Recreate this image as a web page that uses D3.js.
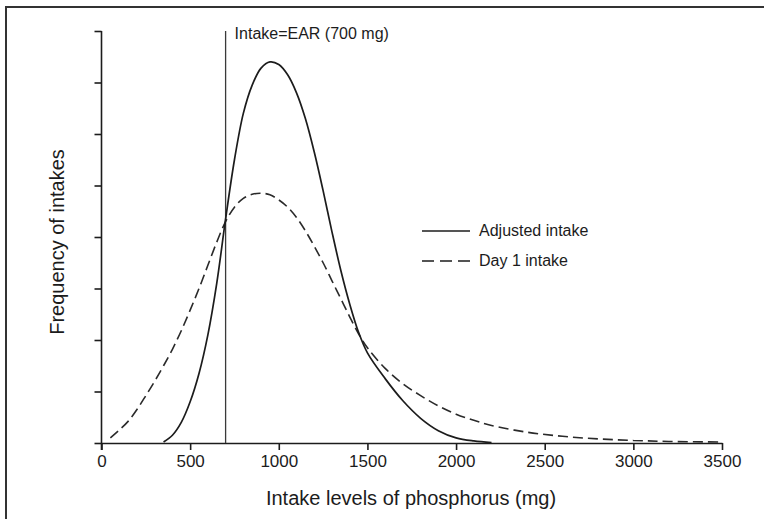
<!DOCTYPE html>
<html>
<head>
<meta charset="utf-8">
<script src="https://cdn.jsdelivr.net/npm/d3@7"></script>
<style>
  body { margin: 0; background: #fff; }
  svg { display: block; }
</style>
</head>
<body>
<div id="chart"></div>
<script>
// tick values (y ticks carry no labels in the original)
const xTicks = [0, 500, 1000, 1500, 2000, 2500, 3000, 3500];
const yTicks = [0, 1, 2, 3, 4, 5, 6, 7, 8];

// adjusted (usual) intake distribution
const adjustedMg   = [350, 400, 450, 500, 550, 600, 650, 700, 750, 800, 850, 900, 950, 1000, 1050, 1100, 1150, 1200, 1250, 1300, 1350, 1400, 1450, 1500, 1600, 1700, 1800, 1900, 2000, 2100, 2200];
const adjustedFreq = [0.02, 0.15, 0.4, 0.8, 1.35, 2.1, 3.1, 4.35, 5.5, 6.4, 6.95, 7.28, 7.4, 7.35, 7.15, 6.8, 6.3, 5.65, 4.9, 4.1, 3.35, 2.7, 2.15, 1.75, 1.25, 0.82, 0.48, 0.24, 0.1, 0.04, 0.01];

// day 1 intake distribution
const day1Mg   = [50, 100, 150, 200, 250, 300, 350, 400, 450, 500, 550, 600, 650, 700, 750, 800, 850, 900, 950, 1000, 1050, 1100, 1150, 1200, 1250, 1300, 1350, 1400, 1450, 1500, 1600, 1700, 1800, 1900, 2000, 2100, 2200, 2400, 2600, 2800, 3000, 3200, 3500];
const day1Freq = [0.1, 0.25, 0.42, 0.65, 0.92, 1.2, 1.5, 1.82, 2.18, 2.58, 3.0, 3.45, 3.9, 4.3, 4.58, 4.75, 4.83, 4.85, 4.82, 4.72, 4.58, 4.38, 4.12, 3.82, 3.5, 3.15, 2.8, 2.45, 2.12, 1.85, 1.45, 1.15, 0.92, 0.72, 0.56, 0.44, 0.34, 0.21, 0.13, 0.08, 0.05, 0.03, 0.02];

const earMg = 700;
const earLabel = 'Intake=EAR (700 mg)';
const legendLabels = ['Adjusted intake', 'Day 1 intake'];
const xTitle = 'Intake levels of phosphorus (mg)';
const yTitle = 'Frequency of intakes';

const width = 764
    , height = 519
    , ink = '#1c1c1c'
    , font = "'Liberation Sans', Arial, Helvetica, sans-serif"
    , dash = '10,5'
    ;

const svg = d3.select('#chart')
  .append('svg')
  .attr('width', width)
  .attr('height', height)
  .style('background', '#fff');

// outer frame, runs off the right and bottom edges
svg.append('rect')
  .attr('x', 6)
  .attr('y', 7)
  .attr('width', 800)
  .attr('height', 600)
  .attr('fill', 'none')
  .attr('stroke', '#333')
  .attr('stroke-width', 2);

const x = d3.scaleLinear().domain([0, 3500]).range([101.5, 722]);
const y = d3.scaleLinear().domain([0, 8]).range([443, 31]);

// axes
const xAxis = svg.append('g')
  .attr('transform', `translate(0,${y(0)})`)
  .call(d3.axisBottom(x).tickValues(xTicks).tickFormat(d3.format('d'))
    .tickSize(7).tickSizeOuter(0).tickPadding(5));

const yAxis = svg.append('g')
  .attr('transform', `translate(${x(0)},0)`)
  .call(d3.axisLeft(y).tickValues(yTicks).tickSize(7).tickSizeOuter(0).tickFormat(''));

[xAxis, yAxis].forEach(g => {
  g.selectAll('path, line').attr('stroke', ink).attr('stroke-width', 1.6);
  g.selectAll('text')
    .attr('fill', ink)
    .style('font', `17px ${font}`);
});

// the y axis line runs down to the end of the zero tick
yAxis.select('.domain').attr('d', `M0,${y(8)}V${y(0) + 7}`);

// EAR reference line
svg.append('line')
  .attr('x1', x(earMg)).attr('x2', x(earMg))
  .attr('y1', y(8)).attr('y2', y(0))
  .attr('stroke', '#3a3a3a')
  .attr('stroke-width', 1.3);

svg.append('text')
  .attr('x', x(earMg) + 9)
  .attr('y', 39)
  .attr('fill', ink)
  .style('font', `16px ${font}`)
  .text(earLabel);

// curves
const line = d3.line()
  .x(d => x(d[0]))
  .y(d => y(d[1]))
  .curve(d3.curveCatmullRom.alpha(0.5));

svg.append('path')
  .datum(d3.zip(day1Mg, day1Freq))
  .attr('d', line)
  .attr('fill', 'none')
  .attr('stroke', '#2a2a2a')
  .attr('stroke-width', 1.6)
  .attr('stroke-dasharray', dash);

svg.append('path')
  .datum(d3.zip(adjustedMg, adjustedFreq))
  .attr('d', line)
  .attr('fill', 'none')
  .attr('stroke', ink)
  .attr('stroke-width', 1.7);

// legend
const legend = svg.append('g')
  .attr('transform', 'translate(422,231)');

legend.selectAll('line')
  .data(legendLabels)
  .join('line')
    .attr('x1', 0).attr('x2', 48)
    .attr('y1', (d, i) => i * 30).attr('y2', (d, i) => i * 30)
    .attr('stroke', ink)
    .attr('stroke-width', 1.6)
    .attr('stroke-dasharray', (d, i) => i ? '12,6' : null);

legend.selectAll('text')
  .data(legendLabels)
  .join('text')
    .attr('x', 57)
    .attr('y', (d, i) => i * 30 + 5)
    .attr('fill', ink)
    .style('font', `16px ${font}`)
    .text(d => d);

// axis titles
svg.append('text')
  .attr('x', 411)
  .attr('y', 505)
  .attr('text-anchor', 'middle')
  .attr('fill', ink)
  .style('font', `20px ${font}`)
  .text(xTitle);

svg.append('text')
  .attr('transform', 'translate(64,242) rotate(-90)')
  .attr('text-anchor', 'middle')
  .attr('fill', ink)
  .style('font', `20px ${font}`)
  .text(yTitle);
</script>
</body>
</html>
